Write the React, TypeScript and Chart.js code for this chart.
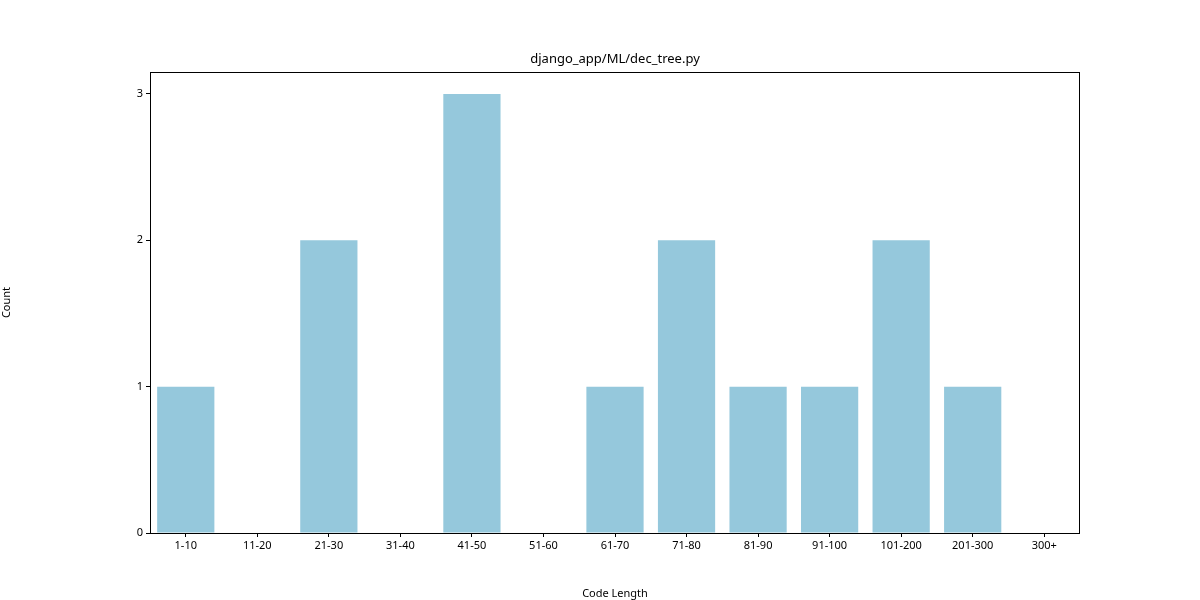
import React, { useEffect, useRef } from "react";
import Chart from "chart.js/auto";

const chartTitle = "django_app/ML/dec_tree.py";
const categories = ["1-10", "11-20", "21-30", "31-40", "41-50", "51-60", "61-70", "71-80", "81-90", "91-100", "101-200", "201-300", "300+"];
const counts = [1, 0, 2, 0, 3, 0, 1, 2, 1, 1, 2, 1, 0];
const yTicks = [0, 1, 2, 3];

const FONT = "'Noto Sans', sans-serif";

const framePlugin = {
  id: "frame",
  afterDraw(chart: any) {
    const { ctx, chartArea: a } = chart;
    ctx.save();
    ctx.strokeStyle = "#000";
    ctx.lineWidth = 1;
    ctx.strokeRect(a.left + 0.5, a.top + 0.5, a.right - a.left - 1, a.bottom - a.top);
    ctx.fillStyle = "#000";
    ctx.font = `13px ${FONT}`;
    ctx.textAlign = "center";
    ctx.textBaseline = "bottom";
    ctx.fillText(chartTitle, (a.left + a.right) / 2, a.top - 6);
    ctx.restore();
  },
};

export default function App() {
  const ref = useRef<HTMLCanvasElement>(null);
  useEffect(() => {
    document.body.style.margin = "0";
    const ctx = ref.current?.getContext("2d");
    if (!ctx) return;
    const chart = new Chart(ctx, {
      type: "bar",
      data: {
        labels: categories,
        datasets: [{ data: counts, backgroundColor: "#95c8dc", categoryPercentage: 0.8, barPercentage: 1 }],
      },
      options: {
        animation: false,
        responsive: false,
        layout: { padding: { top: 72, right: 120, left: 0, bottom: 0 } },
        plugins: { legend: { display: false }, tooltip: { enabled: false } },
        scales: {
          x: {
            offset: true,
            grid: { display: true, drawOnChartArea: false, tickLength: 4, color: "#000", offset: false },
            border: { display: false },
            ticks: { color: "#000", font: { family: FONT, size: 11 }, padding: 2, maxRotation: 0 },
            title: { display: true, text: "Code Length", color: "#000", font: { family: FONT, size: 11 }, padding: 0 },
            afterFit: (s: any) => { s.height = 67; },
          },
          y: {
            min: 0,
            max: 3.15,
            afterBuildTicks: (s: any) => { s.ticks = yTicks.map((v) => ({ value: v })); },
            grid: { display: true, drawOnChartArea: false, tickLength: 4, color: "#000" },
            border: { display: false },
            ticks: { color: "#000", font: { family: FONT, size: 11 }, padding: 3 },
            title: { display: true, text: "Count", color: "#000", font: { family: FONT, size: 11 }, padding: 0 },
            afterFit: (s: any) => { s.width = 150; },
          },
        },
      },
      plugins: [framePlugin],
    });
    return () => chart.destroy();
  }, []);
  return (
    <div style={{ width: 1200, height: 600, background: "#fff" }}>
      <canvas ref={ref} width={1200} height={600} />
    </div>
  );
}
